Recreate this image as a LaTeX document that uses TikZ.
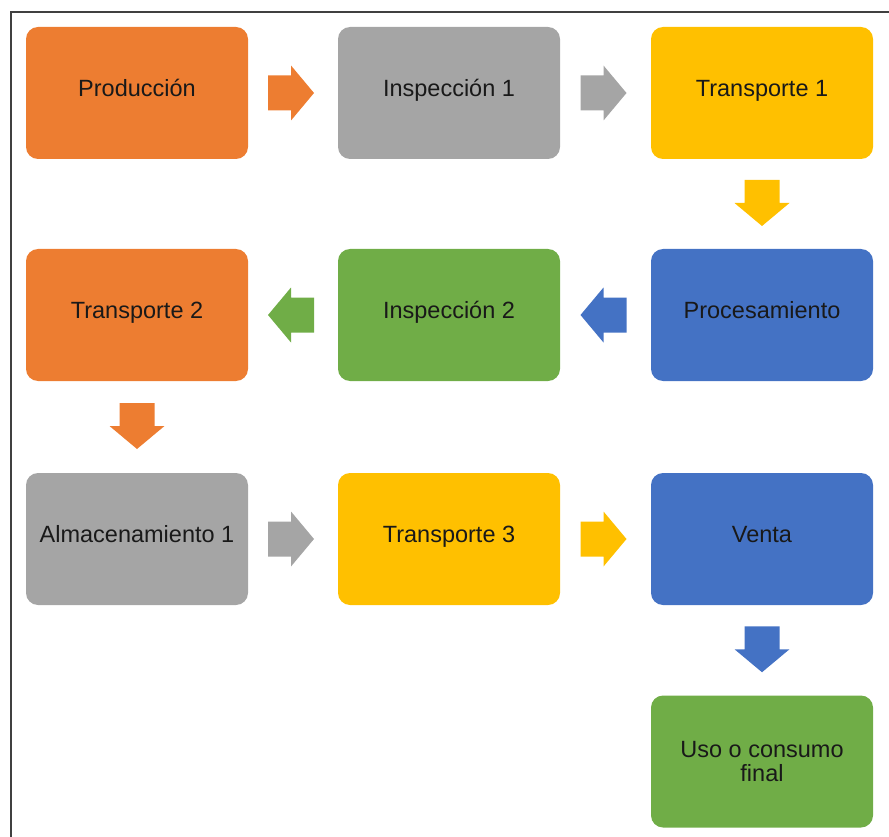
\documentclass[tikz,border=0pt]{standalone}
\usepackage{fontspec}
\setmainfont{Liberation Sans}
\usetikzlibrary{calc}

\definecolor{cOrange}{HTML}{ED7D31}
\definecolor{cGray}{HTML}{A5A5A5}
\definecolor{cYellow}{HTML}{FFC000}
\definecolor{cBlue}{HTML}{4472C4}
\definecolor{cGreen}{HTML}{70AD47}
\definecolor{cFrame}{HTML}{404040}

\begin{document}
\begin{tikzpicture}[x=1pt,y=-1pt,
  stage/.style={fill=#1, rounded corners=12pt, minimum width=222pt,
    minimum height=132pt, inner sep=0pt, align=center,
    font=\fontsize{23.5}{24.5}\selectfont, text=black!90},
  oneline/.style={text height=0.97em, text depth=0.21em},
  % block arrows: 46 long, shaft 35 wide, head 55 wide and 23 long
  pics/blkR/.style={code={\fill[#1] (-25,-17.5) -- (-2,-17.5) -- (-2,-27.5)
      -- (21,0) -- (-2,27.5) -- (-2,17.5) -- (-25,17.5) -- cycle;}},
  pics/blkL/.style={code={\fill[#1] (21,-17.5) -- (-2,-17.5) -- (-2,-27.5)
      -- (-25,0) -- (-2,27.5) -- (-2,17.5) -- (21,17.5) -- cycle;}},
  pics/blkD/.style={code={\fill[#1] (-17.5,-24) -- (-17.5,-1) -- (-27.5,-1)
      -- (0,22) -- (27.5,-1) -- (17.5,-1) -- (17.5,-24) -- cycle;}}
]
\useasboundingbox (0,0) rectangle (889,837);

% frame
\draw[cFrame, line width=2.2pt] (11,837) -- (11,12) -- (889,12);

% stages
\node[stage=cOrange, oneline] (prod) at (137,93)  {Producción};
\node[stage=cGray, oneline]   (insp1) at (449,93) {Inspección 1};
\node[stage=cYellow, oneline] (tr1) at (762,93)   {Transporte 1};

\node[stage=cOrange, oneline] (tr2) at (137,315)  {Transporte 2};
\node[stage=cGreen, oneline]  (insp2) at (449,315) {Inspección 2};
\node[stage=cBlue, oneline]   (proc) at (762,315) {Procesamiento};

\node[stage=cGray, oneline]   (alm) at (137,539)  {Almacenamiento 1};
\node[stage=cYellow, oneline] (tr3) at (449,539)  {Transporte 3};
\node[stage=cBlue, oneline]   (venta) at (762,539) {Venta};

\node[stage=cGreen]  (uso) at (762,761.5) {Uso o consumo\\final};

% connecting arrows
\pic at ($(prod.east)!0.5!(insp1.west)$) {blkR=cOrange};
\pic at ($(insp1.east)!0.5!(tr1.west)$) {blkR=cGray};
\pic at ($(tr1.south)!0.5!(proc.north)$) {blkD=cYellow};
\pic at ($(proc.west)!0.5!(insp2.east)$) {blkL=cBlue};
\pic at ($(insp2.west)!0.5!(tr2.east)$) {blkL=cGreen};
\pic at ($(tr2.south)!0.5!(alm.north)$) {blkD=cOrange};
\pic at ($(alm.east)!0.5!(tr3.west)$) {blkR=cGray};
\pic at ($(tr3.east)!0.5!(venta.west)$) {blkR=cYellow};
\pic at ($(venta.south)!0.5!(uso.north)$) {blkD=cBlue};
\end{tikzpicture}
\end{document}
